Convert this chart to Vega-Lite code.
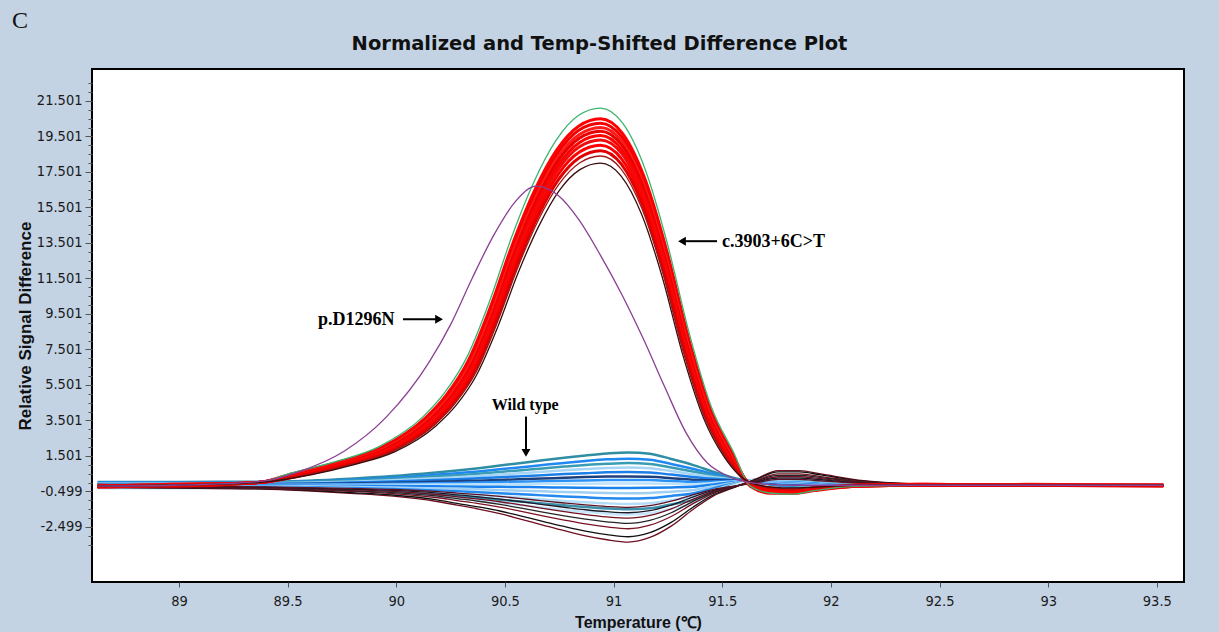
{
"$schema":"https://vega.github.io/schema/vega-lite/v6.json",
"width":1092,"height":513,
"autosize":{"type":"none"},
"padding":{"left":92,"top":69,"right":35,"bottom":50},
"background":"#c3d3e4",
"title":{"text":"C","anchor":"start","frame":"group","dx":-80,"offset":0,"font":"Liberation Serif","fontSize":24,"fontWeight":"normal","color":"#111111"},
"config":{"view":{"stroke":"#000000","strokeWidth":2,"fill":"#ffffff"},"axis":{"grid":false,"domain":false}},
"datasets":{
"curves":[
{"s":"w1","t":88.626,"v":0.04},{"s":"w1","t":89,"v":0.04},{"s":"w1","t":89.394,"v":0.05},{"s":"w1","t":89.591,"v":0.11},{"s":"w1","t":89.788,"v":0.22},{"s":"w1","t":89.985,"v":0.37},{"s":"w1","t":90.182,"v":0.57},{"s":"w1","t":90.28,"v":0.68},{"s":"w1","t":90.379,"v":0.81},{"s":"w1","t":90.477,"v":0.96},{"s":"w1","t":90.576,"v":1.11},{"s":"w1","t":90.674,"v":1.26},{"s":"w1","t":90.773,"v":1.4},{"s":"w1","t":90.871,"v":1.53},{"s":"w1","t":90.97,"v":1.64},{"s":"w1","t":91.068,"v":1.7},{"s":"w1","t":91.167,"v":1.63},{"s":"w1","t":91.265,"v":1.33},{"s":"w1","t":91.364,"v":1.0},{"s":"w1","t":91.462,"v":0.6},{"s":"w1","t":91.56,"v":0.24},{"s":"w1","t":91.659,"v":0.01},{"s":"w1","t":91.757,"v":-0.17},{"s":"w1","t":91.856,"v":-0.26},{"s":"w1","t":91.954,"v":-0.25},{"s":"w1","t":92.151,"v":-0.17},{"s":"w1","t":92.447,"v":-0.15},{"s":"w1","t":92.939,"v":-0.15},{"s":"w1","t":93.53,"v":-0.15},
{"s":"w2","t":88.626,"v":0.0},{"s":"w2","t":89,"v":0.0},{"s":"w2","t":89.394,"v":0.02},{"s":"w2","t":89.591,"v":0.06},{"s":"w2","t":89.788,"v":0.15},{"s":"w2","t":89.985,"v":0.27},{"s":"w2","t":90.182,"v":0.44},{"s":"w2","t":90.28,"v":0.53},{"s":"w2","t":90.379,"v":0.63},{"s":"w2","t":90.477,"v":0.75},{"s":"w2","t":90.576,"v":0.87},{"s":"w2","t":90.674,"v":0.99},{"s":"w2","t":90.773,"v":1.11},{"s":"w2","t":90.871,"v":1.22},{"s":"w2","t":90.97,"v":1.31},{"s":"w2","t":91.068,"v":1.35},{"s":"w2","t":91.167,"v":1.29},{"s":"w2","t":91.265,"v":1.05},{"s":"w2","t":91.364,"v":0.78},{"s":"w2","t":91.462,"v":0.48},{"s":"w2","t":91.56,"v":0.2},{"s":"w2","t":91.659,"v":0.03},{"s":"w2","t":91.757,"v":-0.13},{"s":"w2","t":91.856,"v":-0.21},{"s":"w2","t":91.954,"v":-0.22},{"s":"w2","t":92.151,"v":-0.16},{"s":"w2","t":92.447,"v":-0.15},{"s":"w2","t":92.939,"v":-0.15},{"s":"w2","t":93.53,"v":-0.15},
{"s":"w3","t":88.626,"v":-0.03},{"s":"w3","t":89,"v":-0.03},{"s":"w3","t":89.394,"v":-0.01},{"s":"w3","t":89.591,"v":0.03},{"s":"w3","t":89.788,"v":0.1},{"s":"w3","t":89.985,"v":0.2},{"s":"w3","t":90.182,"v":0.34},{"s":"w3","t":90.28,"v":0.41},{"s":"w3","t":90.379,"v":0.5},{"s":"w3","t":90.477,"v":0.6},{"s":"w3","t":90.576,"v":0.7},{"s":"w3","t":90.674,"v":0.8},{"s":"w3","t":90.773,"v":0.9},{"s":"w3","t":90.871,"v":0.99},{"s":"w3","t":90.97,"v":1.06},{"s":"w3","t":91.068,"v":1.1},{"s":"w3","t":91.167,"v":1.05},{"s":"w3","t":91.265,"v":0.85},{"s":"w3","t":91.364,"v":0.63},{"s":"w3","t":91.462,"v":0.39},{"s":"w3","t":91.56,"v":0.18},{"s":"w3","t":91.659,"v":0.04},{"s":"w3","t":91.757,"v":-0.1},{"s":"w3","t":91.856,"v":-0.18},{"s":"w3","t":91.954,"v":-0.19},{"s":"w3","t":92.151,"v":-0.15},{"s":"w3","t":92.447,"v":-0.15},{"s":"w3","t":92.939,"v":-0.15},{"s":"w3","t":93.53,"v":-0.15},
{"s":"w4","t":88.626,"v":-0.05},{"s":"w4","t":89,"v":-0.05},{"s":"w4","t":89.394,"v":-0.04},{"s":"w4","t":89.591,"v":-0.01},{"s":"w4","t":89.788,"v":0.05},{"s":"w4","t":89.985,"v":0.13},{"s":"w4","t":90.182,"v":0.24},{"s":"w4","t":90.28,"v":0.3},{"s":"w4","t":90.379,"v":0.37},{"s":"w4","t":90.477,"v":0.45},{"s":"w4","t":90.576,"v":0.53},{"s":"w4","t":90.674,"v":0.61},{"s":"w4","t":90.773,"v":0.69},{"s":"w4","t":90.871,"v":0.76},{"s":"w4","t":90.97,"v":0.82},{"s":"w4","t":91.068,"v":0.85},{"s":"w4","t":91.167,"v":0.81},{"s":"w4","t":91.265,"v":0.65},{"s":"w4","t":91.364,"v":0.47},{"s":"w4","t":91.462,"v":0.3},{"s":"w4","t":91.56,"v":0.15},{"s":"w4","t":91.659,"v":0.05},{"s":"w4","t":91.757,"v":-0.07},{"s":"w4","t":91.856,"v":-0.14},{"s":"w4","t":91.954,"v":-0.16},{"s":"w4","t":92.151,"v":-0.14},{"s":"w4","t":92.447,"v":-0.15},{"s":"w4","t":92.939,"v":-0.15},{"s":"w4","t":93.53,"v":-0.15},
{"s":"w5","t":88.626,"v":-0.08},{"s":"w5","t":89,"v":-0.08},{"s":"w5","t":89.394,"v":-0.07},{"s":"w5","t":89.591,"v":-0.05},{"s":"w5","t":89.788,"v":0.0},{"s":"w5","t":89.985,"v":0.06},{"s":"w5","t":90.182,"v":0.14},{"s":"w5","t":90.28,"v":0.19},{"s":"w5","t":90.379,"v":0.24},{"s":"w5","t":90.477,"v":0.3},{"s":"w5","t":90.576,"v":0.36},{"s":"w5","t":90.674,"v":0.42},{"s":"w5","t":90.773,"v":0.48},{"s":"w5","t":90.871,"v":0.53},{"s":"w5","t":90.97,"v":0.58},{"s":"w5","t":91.068,"v":0.6},{"s":"w5","t":91.167,"v":0.57},{"s":"w5","t":91.265,"v":0.45},{"s":"w5","t":91.364,"v":0.32},{"s":"w5","t":91.462,"v":0.21},{"s":"w5","t":91.56,"v":0.13},{"s":"w5","t":91.659,"v":0.06},{"s":"w5","t":91.757,"v":-0.04},{"s":"w5","t":91.856,"v":-0.1},{"s":"w5","t":91.954,"v":-0.13},{"s":"w5","t":92.151,"v":-0.13},{"s":"w5","t":92.447,"v":-0.15},{"s":"w5","t":92.939,"v":-0.15},{"s":"w5","t":93.53,"v":-0.15},
{"s":"w6","t":88.626,"v":-0.1},{"s":"w6","t":89,"v":-0.1},{"s":"w6","t":89.394,"v":-0.1},{"s":"w6","t":89.591,"v":-0.08},{"s":"w6","t":89.788,"v":-0.05},{"s":"w6","t":89.985,"v":-0.01},{"s":"w6","t":90.182,"v":0.05},{"s":"w6","t":90.28,"v":0.08},{"s":"w6","t":90.379,"v":0.11},{"s":"w6","t":90.477,"v":0.15},{"s":"w6","t":90.576,"v":0.19},{"s":"w6","t":90.674,"v":0.23},{"s":"w6","t":90.773,"v":0.27},{"s":"w6","t":90.871,"v":0.31},{"s":"w6","t":90.97,"v":0.34},{"s":"w6","t":91.068,"v":0.35},{"s":"w6","t":91.167,"v":0.33},{"s":"w6","t":91.265,"v":0.25},{"s":"w6","t":91.364,"v":0.16},{"s":"w6","t":91.462,"v":0.13},{"s":"w6","t":91.56,"v":0.1},{"s":"w6","t":91.659,"v":0.08},{"s":"w6","t":91.757,"v":-0.01},{"s":"w6","t":91.856,"v":-0.07},{"s":"w6","t":91.954,"v":-0.11},{"s":"w6","t":92.151,"v":-0.12},{"s":"w6","t":92.447,"v":-0.15},{"s":"w6","t":92.939,"v":-0.15},{"s":"w6","t":93.53,"v":-0.15},
{"s":"w7","t":88.626,"v":-0.12},{"s":"w7","t":89,"v":-0.12},{"s":"w7","t":89.394,"v":-0.12},{"s":"w7","t":89.591,"v":-0.11},{"s":"w7","t":89.788,"v":-0.09},{"s":"w7","t":89.985,"v":-0.07},{"s":"w7","t":90.182,"v":-0.03},{"s":"w7","t":90.28,"v":-0.02},{"s":"w7","t":90.379,"v":0.01},{"s":"w7","t":90.477,"v":0.03},{"s":"w7","t":90.576,"v":0.05},{"s":"w7","t":90.674,"v":0.08},{"s":"w7","t":90.773,"v":0.1},{"s":"w7","t":90.871,"v":0.12},{"s":"w7","t":90.97,"v":0.14},{"s":"w7","t":91.068,"v":0.15},{"s":"w7","t":91.167,"v":0.14},{"s":"w7","t":91.265,"v":0.09},{"s":"w7","t":91.364,"v":0.04},{"s":"w7","t":91.462,"v":0.06},{"s":"w7","t":91.56,"v":0.08},{"s":"w7","t":91.659,"v":0.09},{"s":"w7","t":91.757,"v":0.01},{"s":"w7","t":91.856,"v":-0.04},{"s":"w7","t":91.954,"v":-0.08},{"s":"w7","t":92.151,"v":-0.11},{"s":"w7","t":92.447,"v":-0.15},{"s":"w7","t":92.939,"v":-0.15},{"s":"w7","t":93.53,"v":-0.15},
{"s":"w8","t":88.626,"v":-0.14},{"s":"w8","t":89,"v":-0.14},{"s":"w8","t":89.394,"v":-0.14},{"s":"w8","t":89.591,"v":-0.14},{"s":"w8","t":89.788,"v":-0.13},{"s":"w8","t":89.985,"v":-0.12},{"s":"w8","t":90.182,"v":-0.11},{"s":"w8","t":90.28,"v":-0.11},{"s":"w8","t":90.379,"v":-0.1},{"s":"w8","t":90.477,"v":-0.09},{"s":"w8","t":90.576,"v":-0.08},{"s":"w8","t":90.674,"v":-0.07},{"s":"w8","t":90.773,"v":-0.07},{"s":"w8","t":90.871,"v":-0.06},{"s":"w8","t":90.97,"v":-0.05},{"s":"w8","t":91.068,"v":-0.05},{"s":"w8","t":91.167,"v":-0.05},{"s":"w8","t":91.265,"v":-0.07},{"s":"w8","t":91.364,"v":-0.09},{"s":"w8","t":91.462,"v":-0.02},{"s":"w8","t":91.56,"v":0.06},{"s":"w8","t":91.659,"v":0.1},{"s":"w8","t":91.757,"v":0.04},{"s":"w8","t":91.856,"v":-0.01},{"s":"w8","t":91.954,"v":-0.06},{"s":"w8","t":92.151,"v":-0.1},{"s":"w8","t":92.447,"v":-0.15},{"s":"w8","t":92.939,"v":-0.15},{"s":"w8","t":93.53,"v":-0.15},
{"s":"w9","t":88.626,"v":-0.17},{"s":"w9","t":89,"v":-0.17},{"s":"w9","t":89.394,"v":-0.17},{"s":"w9","t":89.591,"v":-0.17},{"s":"w9","t":89.788,"v":-0.18},{"s":"w9","t":89.985,"v":-0.19},{"s":"w9","t":90.182,"v":-0.21},{"s":"w9","t":90.28,"v":-0.22},{"s":"w9","t":90.379,"v":-0.23},{"s":"w9","t":90.477,"v":-0.24},{"s":"w9","t":90.576,"v":-0.25},{"s":"w9","t":90.674,"v":-0.26},{"s":"w9","t":90.773,"v":-0.28},{"s":"w9","t":90.871,"v":-0.29},{"s":"w9","t":90.97,"v":-0.3},{"s":"w9","t":91.068,"v":-0.3},{"s":"w9","t":91.167,"v":-0.29},{"s":"w9","t":91.265,"v":-0.27},{"s":"w9","t":91.364,"v":-0.24},{"s":"w9","t":91.462,"v":-0.1},{"s":"w9","t":91.56,"v":0.04},{"s":"w9","t":91.659,"v":0.11},{"s":"w9","t":91.757,"v":0.07},{"s":"w9","t":91.856,"v":0.02},{"s":"w9","t":91.954,"v":-0.03},{"s":"w9","t":92.151,"v":-0.09},{"s":"w9","t":92.447,"v":-0.15},{"s":"w9","t":92.939,"v":-0.15},{"s":"w9","t":93.53,"v":-0.15},
{"s":"w10","t":88.626,"v":-0.2},{"s":"w10","t":89,"v":-0.2},{"s":"w10","t":89.394,"v":-0.2},{"s":"w10","t":89.591,"v":-0.21},{"s":"w10","t":89.788,"v":-0.24},{"s":"w10","t":89.985,"v":-0.28},{"s":"w10","t":90.182,"v":-0.33},{"s":"w10","t":90.28,"v":-0.35},{"s":"w10","t":90.379,"v":-0.38},{"s":"w10","t":90.477,"v":-0.42},{"s":"w10","t":90.576,"v":-0.46},{"s":"w10","t":90.674,"v":-0.49},{"s":"w10","t":90.773,"v":-0.53},{"s":"w10","t":90.871,"v":-0.56},{"s":"w10","t":90.97,"v":-0.59},{"s":"w10","t":91.068,"v":-0.6},{"s":"w10","t":91.167,"v":-0.58},{"s":"w10","t":91.265,"v":-0.51},{"s":"w10","t":91.364,"v":-0.43},{"s":"w10","t":91.462,"v":-0.21},{"s":"w10","t":91.56,"v":0.0},{"s":"w10","t":91.659,"v":0.12},{"s":"w10","t":91.757,"v":0.1},{"s":"w10","t":91.856,"v":0.06},{"s":"w10","t":91.954,"v":0.0},{"s":"w10","t":92.151,"v":-0.08},{"s":"w10","t":92.447,"v":-0.15},{"s":"w10","t":92.939,"v":-0.15},{"s":"w10","t":93.53,"v":-0.15},
{"s":"w11","t":88.626,"v":-0.23},{"s":"w11","t":89,"v":-0.23},{"s":"w11","t":89.394,"v":-0.23},{"s":"w11","t":89.591,"v":-0.26},{"s":"w11","t":89.788,"v":-0.3},{"s":"w11","t":89.985,"v":-0.36},{"s":"w11","t":90.182,"v":-0.44},{"s":"w11","t":90.28,"v":-0.49},{"s":"w11","t":90.379,"v":-0.54},{"s":"w11","t":90.477,"v":-0.6},{"s":"w11","t":90.576,"v":-0.66},{"s":"w11","t":90.674,"v":-0.72},{"s":"w11","t":90.773,"v":-0.78},{"s":"w11","t":90.871,"v":-0.83},{"s":"w11","t":90.97,"v":-0.88},{"s":"w11","t":91.068,"v":-0.9},{"s":"w11","t":91.167,"v":-0.87},{"s":"w11","t":91.265,"v":-0.75},{"s":"w11","t":91.364,"v":-0.62},{"s":"w11","t":91.462,"v":-0.31},{"s":"w11","t":91.56,"v":-0.03},{"s":"w11","t":91.659,"v":0.14},{"s":"w11","t":91.757,"v":0.14},{"s":"w11","t":91.856,"v":0.11},{"s":"w11","t":91.954,"v":0.03},{"s":"w11","t":92.151,"v":-0.07},{"s":"w11","t":92.447,"v":-0.15},{"s":"w11","t":92.939,"v":-0.15},{"s":"w11","t":93.53,"v":-0.15},
{"s":"w12","t":88.626,"v":-0.26},{"s":"w12","t":89,"v":-0.26},{"s":"w12","t":89.394,"v":-0.27},{"s":"w12","t":89.591,"v":-0.3},{"s":"w12","t":89.788,"v":-0.36},{"s":"w12","t":89.985,"v":-0.44},{"s":"w12","t":90.182,"v":-0.56},{"s":"w12","t":90.28,"v":-0.62},{"s":"w12","t":90.379,"v":-0.7},{"s":"w12","t":90.477,"v":-0.78},{"s":"w12","t":90.576,"v":-0.86},{"s":"w12","t":90.674,"v":-0.95},{"s":"w12","t":90.773,"v":-1.03},{"s":"w12","t":90.871,"v":-1.11},{"s":"w12","t":90.97,"v":-1.17},{"s":"w12","t":91.068,"v":-1.2},{"s":"w12","t":91.167,"v":-1.16},{"s":"w12","t":91.265,"v":-0.99},{"s":"w12","t":91.364,"v":-0.8},{"s":"w12","t":91.462,"v":-0.42},{"s":"w12","t":91.56,"v":-0.06},{"s":"w12","t":91.659,"v":0.15},{"s":"w12","t":91.757,"v":0.18},{"s":"w12","t":91.856,"v":0.15},{"s":"w12","t":91.954,"v":0.07},{"s":"w12","t":92.151,"v":-0.06},{"s":"w12","t":92.447,"v":-0.15},{"s":"w12","t":92.939,"v":-0.15},{"s":"w12","t":93.53,"v":-0.15},
{"s":"w13","t":88.626,"v":-0.29},{"s":"w13","t":89,"v":-0.29},{"s":"w13","t":89.394,"v":-0.3},{"s":"w13","t":89.591,"v":-0.34},{"s":"w13","t":89.788,"v":-0.42},{"s":"w13","t":89.985,"v":-0.53},{"s":"w13","t":90.182,"v":-0.68},{"s":"w13","t":90.28,"v":-0.76},{"s":"w13","t":90.379,"v":-0.85},{"s":"w13","t":90.477,"v":-0.96},{"s":"w13","t":90.576,"v":-1.07},{"s":"w13","t":90.674,"v":-1.18},{"s":"w13","t":90.773,"v":-1.28},{"s":"w13","t":90.871,"v":-1.38},{"s":"w13","t":90.97,"v":-1.46},{"s":"w13","t":91.068,"v":-1.5},{"s":"w13","t":91.167,"v":-1.45},{"s":"w13","t":91.265,"v":-1.23},{"s":"w13","t":91.364,"v":-0.99},{"s":"w13","t":91.462,"v":-0.52},{"s":"w13","t":91.56,"v":-0.09},{"s":"w13","t":91.659,"v":0.17},{"s":"w13","t":91.757,"v":0.21},{"s":"w13","t":91.856,"v":0.19},{"s":"w13","t":91.954,"v":0.1},{"s":"w13","t":92.151,"v":-0.05},{"s":"w13","t":92.447,"v":-0.15},{"s":"w13","t":92.939,"v":-0.15},{"s":"w13","t":93.53,"v":-0.15},
{"s":"w14","t":88.626,"v":-0.32},{"s":"w14","t":89,"v":-0.32},{"s":"w14","t":89.394,"v":-0.33},{"s":"w14","t":89.591,"v":-0.38},{"s":"w14","t":89.788,"v":-0.48},{"s":"w14","t":89.985,"v":-0.61},{"s":"w14","t":90.182,"v":-0.79},{"s":"w14","t":90.28,"v":-0.89},{"s":"w14","t":90.379,"v":-1.01},{"s":"w14","t":90.477,"v":-1.14},{"s":"w14","t":90.576,"v":-1.27},{"s":"w14","t":90.674,"v":-1.4},{"s":"w14","t":90.773,"v":-1.54},{"s":"w14","t":90.871,"v":-1.65},{"s":"w14","t":90.97,"v":-1.75},{"s":"w14","t":91.068,"v":-1.8},{"s":"w14","t":91.167,"v":-1.73},{"s":"w14","t":91.265,"v":-1.47},{"s":"w14","t":91.364,"v":-1.17},{"s":"w14","t":91.462,"v":-0.63},{"s":"w14","t":91.56,"v":-0.12},{"s":"w14","t":91.659,"v":0.18},{"s":"w14","t":91.757,"v":0.25},{"s":"w14","t":91.856,"v":0.23},{"s":"w14","t":91.954,"v":0.13},{"s":"w14","t":92.151,"v":-0.03},{"s":"w14","t":92.447,"v":-0.15},{"s":"w14","t":92.939,"v":-0.15},{"s":"w14","t":93.53,"v":-0.15},
{"s":"n1","t":88.626,"v":-0.28},{"s":"n1","t":89,"v":-0.31},{"s":"n1","t":89.394,"v":-0.37},{"s":"n1","t":89.591,"v":-0.47},{"s":"n1","t":89.788,"v":-0.6},{"s":"n1","t":89.985,"v":-0.76},{"s":"n1","t":90.182,"v":-1.05},{"s":"n1","t":90.28,"v":-1.27},{"s":"n1","t":90.379,"v":-1.49},{"s":"n1","t":90.477,"v":-1.75},{"s":"n1","t":90.576,"v":-2.07},{"s":"n1","t":90.674,"v":-2.39},{"s":"n1","t":90.773,"v":-2.71},{"s":"n1","t":90.871,"v":-3.0},{"s":"n1","t":90.97,"v":-3.22},{"s":"n1","t":91.068,"v":-3.35},{"s":"n1","t":91.167,"v":-3.09},{"s":"n1","t":91.265,"v":-2.45},{"s":"n1","t":91.364,"v":-1.53},{"s":"n1","t":91.462,"v":-0.73},{"s":"n1","t":91.56,"v":-0.25},{"s":"n1","t":91.659,"v":0.23},{"s":"n1","t":91.757,"v":0.68},{"s":"n1","t":91.856,"v":0.68},{"s":"n1","t":91.954,"v":0.49},{"s":"n1","t":92.151,"v":0.11},{"s":"n1","t":92.447,"v":-0.09},{"s":"n1","t":92.939,"v":-0.15},{"s":"n1","t":93.53,"v":-0.15},
{"s":"n2","t":88.626,"v":-0.27},{"s":"n2","t":89,"v":-0.3},{"s":"n2","t":89.394,"v":-0.35},{"s":"n2","t":89.591,"v":-0.44},{"s":"n2","t":89.788,"v":-0.56},{"s":"n2","t":89.985,"v":-0.7},{"s":"n2","t":90.182,"v":-0.96},{"s":"n2","t":90.28,"v":-1.17},{"s":"n2","t":90.379,"v":-1.37},{"s":"n2","t":90.477,"v":-1.6},{"s":"n2","t":90.576,"v":-1.89},{"s":"n2","t":90.674,"v":-2.18},{"s":"n2","t":90.773,"v":-2.47},{"s":"n2","t":90.871,"v":-2.73},{"s":"n2","t":90.97,"v":-2.93},{"s":"n2","t":91.068,"v":-3.05},{"s":"n2","t":91.167,"v":-2.82},{"s":"n2","t":91.265,"v":-2.24},{"s":"n2","t":91.364,"v":-1.4},{"s":"n2","t":91.462,"v":-0.67},{"s":"n2","t":91.56,"v":-0.24},{"s":"n2","t":91.659,"v":0.2},{"s":"n2","t":91.757,"v":0.6},{"s":"n2","t":91.856,"v":0.6},{"s":"n2","t":91.954,"v":0.43},{"s":"n2","t":92.151,"v":0.08},{"s":"n2","t":92.447,"v":-0.09},{"s":"n2","t":92.939,"v":-0.15},{"s":"n2","t":93.53,"v":-0.15},
{"s":"n3","t":88.626,"v":-0.25},{"s":"n3","t":89,"v":-0.27},{"s":"n3","t":89.394,"v":-0.32},{"s":"n3","t":89.591,"v":-0.4},{"s":"n3","t":89.788,"v":-0.49},{"s":"n3","t":89.985,"v":-0.62},{"s":"n3","t":90.182,"v":-0.84},{"s":"n3","t":90.28,"v":-1.01},{"s":"n3","t":90.379,"v":-1.18},{"s":"n3","t":90.477,"v":-1.38},{"s":"n3","t":90.576,"v":-1.62},{"s":"n3","t":90.674,"v":-1.87},{"s":"n3","t":90.773,"v":-2.11},{"s":"n3","t":90.871,"v":-2.33},{"s":"n3","t":90.97,"v":-2.5},{"s":"n3","t":91.068,"v":-2.6},{"s":"n3","t":91.167,"v":-2.4},{"s":"n3","t":91.265,"v":-1.91},{"s":"n3","t":91.364,"v":-1.2},{"s":"n3","t":91.462,"v":-0.59},{"s":"n3","t":91.56,"v":-0.22},{"s":"n3","t":91.659,"v":0.14},{"s":"n3","t":91.757,"v":0.49},{"s":"n3","t":91.856,"v":0.49},{"s":"n3","t":91.954,"v":0.34},{"s":"n3","t":92.151,"v":0.05},{"s":"n3","t":92.447,"v":-0.1},{"s":"n3","t":92.939,"v":-0.15},{"s":"n3","t":93.53,"v":-0.15},
{"s":"n4","t":88.626,"v":-0.24},{"s":"n4","t":89,"v":-0.26},{"s":"n4","t":89.394,"v":-0.3},{"s":"n4","t":89.591,"v":-0.37},{"s":"n4","t":89.788,"v":-0.45},{"s":"n4","t":89.985,"v":-0.56},{"s":"n4","t":90.182,"v":-0.75},{"s":"n4","t":90.28,"v":-0.9},{"s":"n4","t":90.379,"v":-1.05},{"s":"n4","t":90.477,"v":-1.23},{"s":"n4","t":90.576,"v":-1.44},{"s":"n4","t":90.674,"v":-1.66},{"s":"n4","t":90.773,"v":-1.87},{"s":"n4","t":90.871,"v":-2.06},{"s":"n4","t":90.97,"v":-2.21},{"s":"n4","t":91.068,"v":-2.3},{"s":"n4","t":91.167,"v":-2.13},{"s":"n4","t":91.265,"v":-1.7},{"s":"n4","t":91.364,"v":-1.07},{"s":"n4","t":91.462,"v":-0.54},{"s":"n4","t":91.56,"v":-0.21},{"s":"n4","t":91.659,"v":0.11},{"s":"n4","t":91.757,"v":0.41},{"s":"n4","t":91.856,"v":0.41},{"s":"n4","t":91.954,"v":0.28},{"s":"n4","t":92.151,"v":0.02},{"s":"n4","t":92.447,"v":-0.11},{"s":"n4","t":92.939,"v":-0.15},{"s":"n4","t":93.53,"v":-0.15},
{"s":"n5","t":88.626,"v":-0.22},{"s":"n5","t":89,"v":-0.24},{"s":"n5","t":89.394,"v":-0.28},{"s":"n5","t":89.591,"v":-0.34},{"s":"n5","t":89.788,"v":-0.41},{"s":"n5","t":89.985,"v":-0.5},{"s":"n5","t":90.182,"v":-0.67},{"s":"n5","t":90.28,"v":-0.8},{"s":"n5","t":90.379,"v":-0.93},{"s":"n5","t":90.477,"v":-1.08},{"s":"n5","t":90.576,"v":-1.26},{"s":"n5","t":90.674,"v":-1.45},{"s":"n5","t":90.773,"v":-1.63},{"s":"n5","t":90.871,"v":-1.8},{"s":"n5","t":90.97,"v":-1.93},{"s":"n5","t":91.068,"v":-2.0},{"s":"n5","t":91.167,"v":-1.85},{"s":"n5","t":91.265,"v":-1.48},{"s":"n5","t":91.364,"v":-0.95},{"s":"n5","t":91.462,"v":-0.48},{"s":"n5","t":91.56,"v":-0.21},{"s":"n5","t":91.659,"v":0.07},{"s":"n5","t":91.757,"v":0.33},{"s":"n5","t":91.856,"v":0.33},{"s":"n5","t":91.954,"v":0.22},{"s":"n5","t":92.151,"v":0.0},{"s":"n5","t":92.447,"v":-0.11},{"s":"n5","t":92.939,"v":-0.15},{"s":"n5","t":93.53,"v":-0.15},
{"s":"n6","t":88.626,"v":-0.21},{"s":"n6","t":89,"v":-0.23},{"s":"n6","t":89.394,"v":-0.26},{"s":"n6","t":89.591,"v":-0.31},{"s":"n6","t":89.788,"v":-0.37},{"s":"n6","t":89.985,"v":-0.44},{"s":"n6","t":90.182,"v":-0.58},{"s":"n6","t":90.28,"v":-0.69},{"s":"n6","t":90.379,"v":-0.8},{"s":"n6","t":90.477,"v":-0.93},{"s":"n6","t":90.576,"v":-1.08},{"s":"n6","t":90.674,"v":-1.24},{"s":"n6","t":90.773,"v":-1.39},{"s":"n6","t":90.871,"v":-1.53},{"s":"n6","t":90.97,"v":-1.64},{"s":"n6","t":91.068,"v":-1.7},{"s":"n6","t":91.167,"v":-1.58},{"s":"n6","t":91.265,"v":-1.27},{"s":"n6","t":91.364,"v":-0.82},{"s":"n6","t":91.462,"v":-0.43},{"s":"n6","t":91.56,"v":-0.2},{"s":"n6","t":91.659,"v":0.04},{"s":"n6","t":91.757,"v":0.25},{"s":"n6","t":91.856,"v":0.25},{"s":"n6","t":91.954,"v":0.16},{"s":"n6","t":92.151,"v":-0.03},{"s":"n6","t":92.447,"v":-0.12},{"s":"n6","t":92.939,"v":-0.15},{"s":"n6","t":93.53,"v":-0.15},
{"s":"n7","t":88.626,"v":-0.2},{"s":"n7","t":89,"v":-0.21},{"s":"n7","t":89.394,"v":-0.24},{"s":"n7","t":89.591,"v":-0.28},{"s":"n7","t":89.788,"v":-0.33},{"s":"n7","t":89.985,"v":-0.39},{"s":"n7","t":90.182,"v":-0.5},{"s":"n7","t":90.28,"v":-0.59},{"s":"n7","t":90.379,"v":-0.68},{"s":"n7","t":90.477,"v":-0.78},{"s":"n7","t":90.576,"v":-0.9},{"s":"n7","t":90.674,"v":-1.03},{"s":"n7","t":90.773,"v":-1.15},{"s":"n7","t":90.871,"v":-1.26},{"s":"n7","t":90.97,"v":-1.35},{"s":"n7","t":91.068,"v":-1.4},{"s":"n7","t":91.167,"v":-1.3},{"s":"n7","t":91.265,"v":-1.05},{"s":"n7","t":91.364,"v":-0.69},{"s":"n7","t":91.462,"v":-0.38},{"s":"n7","t":91.56,"v":-0.19},{"s":"n7","t":91.659,"v":0.0},{"s":"n7","t":91.757,"v":0.18},{"s":"n7","t":91.856,"v":0.18},{"s":"n7","t":91.954,"v":0.1},{"s":"n7","t":92.151,"v":-0.05},{"s":"n7","t":92.447,"v":-0.12},{"s":"n7","t":92.939,"v":-0.15},{"s":"n7","t":93.53,"v":-0.15},
{"s":"gr","t":88.626,"v":-0.2},{"s":"gr","t":88.97,"v":-0.15},{"s":"gr","t":89.364,"v":0.0},{"s":"gr","t":89.513,"v":0.53},{"s":"gr","t":89.717,"v":1.17},{"s":"gr","t":89.921,"v":2.03},{"s":"gr","t":90.125,"v":3.73},{"s":"gr","t":90.226,"v":5.12},{"s":"gr","t":90.328,"v":7.14},{"s":"gr","t":90.43,"v":10.23},{"s":"gr","t":90.532,"v":13.86},{"s":"gr","t":90.634,"v":16.95},{"s":"gr","t":90.736,"v":19.29},{"s":"gr","t":90.838,"v":20.68},{"s":"gr","t":90.94,"v":21.1},{"s":"gr","t":91.042,"v":20.25},{"s":"gr","t":91.144,"v":17.7},{"s":"gr","t":91.246,"v":13.54},{"s":"gr","t":91.348,"v":8.42},{"s":"gr","t":91.45,"v":4.26},{"s":"gr","t":91.552,"v":1.71},{"s":"gr","t":91.629,"v":-0.2},{"s":"gr","t":91.727,"v":-0.6},{"s":"gr","t":91.826,"v":-0.65},{"s":"gr","t":91.924,"v":-0.45},{"s":"gr","t":92.121,"v":-0.2},{"s":"gr","t":92.417,"v":-0.15},{"s":"gr","t":92.909,"v":-0.15},{"s":"gr","t":93.53,"v":-0.15},
{"s":"r1","t":88.626,"v":-0.2},{"s":"r1","t":88.97,"v":-0.15},{"s":"r1","t":89.364,"v":0.0},{"s":"r1","t":89.527,"v":0.52},{"s":"r1","t":89.729,"v":1.14},{"s":"r1","t":89.931,"v":1.97},{"s":"r1","t":90.132,"v":3.62},{"s":"r1","t":90.233,"v":4.97},{"s":"r1","t":90.334,"v":6.93},{"s":"r1","t":90.435,"v":9.94},{"s":"r1","t":90.536,"v":13.46},{"s":"r1","t":90.637,"v":16.46},{"s":"r1","t":90.738,"v":18.73},{"s":"r1","t":90.839,"v":20.08},{"s":"r1","t":90.94,"v":20.5},{"s":"r1","t":91.041,"v":19.67},{"s":"r1","t":91.142,"v":17.18},{"s":"r1","t":91.243,"v":13.14},{"s":"r1","t":91.344,"v":8.18},{"s":"r1","t":91.445,"v":4.14},{"s":"r1","t":91.546,"v":1.66},{"s":"r1","t":91.629,"v":-0.2},{"s":"r1","t":91.727,"v":-0.6},{"s":"r1","t":91.826,"v":-0.6},{"s":"r1","t":91.924,"v":-0.45},{"s":"r1","t":92.121,"v":-0.2},{"s":"r1","t":92.417,"v":-0.15},{"s":"r1","t":92.909,"v":-0.15},{"s":"r1","t":93.53,"v":-0.15},
{"s":"r2","t":88.626,"v":-0.25},{"s":"r2","t":88.97,"v":-0.15},{"s":"r2","t":89.364,"v":0.0},{"s":"r2","t":89.537,"v":0.51},{"s":"r2","t":89.737,"v":1.13},{"s":"r2","t":89.938,"v":1.94},{"s":"r2","t":90.138,"v":3.58},{"s":"r2","t":90.238,"v":4.91},{"s":"r2","t":90.339,"v":6.85},{"s":"r2","t":90.439,"v":9.82},{"s":"r2","t":90.539,"v":13.3},{"s":"r2","t":90.639,"v":16.27},{"s":"r2","t":90.74,"v":18.52},{"s":"r2","t":90.84,"v":19.85},{"s":"r2","t":90.94,"v":20.25},{"s":"r2","t":91.04,"v":19.44},{"s":"r2","t":91.141,"v":16.98},{"s":"r2","t":91.241,"v":12.99},{"s":"r2","t":91.341,"v":8.08},{"s":"r2","t":91.441,"v":4.09},{"s":"r2","t":91.542,"v":1.64},{"s":"r2","t":91.629,"v":-0.15},{"s":"r2","t":91.727,"v":-0.55},{"s":"r2","t":91.826,"v":-0.6},{"s":"r2","t":91.924,"v":-0.4},{"s":"r2","t":92.121,"v":-0.2},{"s":"r2","t":92.417,"v":-0.1},{"s":"r2","t":92.909,"v":-0.15},{"s":"r2","t":93.53,"v":-0.15},
{"s":"r3","t":88.626,"v":-0.2},{"s":"r3","t":88.97,"v":-0.1},{"s":"r3","t":89.364,"v":0.0},{"s":"r3","t":89.548,"v":0.5},{"s":"r3","t":89.747,"v":1.11},{"s":"r3","t":89.945,"v":1.92},{"s":"r3","t":90.144,"v":3.54},{"s":"r3","t":90.244,"v":4.85},{"s":"r3","t":90.343,"v":6.77},{"s":"r3","t":90.443,"v":9.7},{"s":"r3","t":90.542,"v":13.13},{"s":"r3","t":90.642,"v":16.06},{"s":"r3","t":90.741,"v":18.28},{"s":"r3","t":90.841,"v":19.59},{"s":"r3","t":90.94,"v":20.0},{"s":"r3","t":91.04,"v":19.19},{"s":"r3","t":91.139,"v":16.77},{"s":"r3","t":91.238,"v":12.83},{"s":"r3","t":91.338,"v":7.98},{"s":"r3","t":91.437,"v":4.04},{"s":"r3","t":91.537,"v":1.62},{"s":"r3","t":91.629,"v":-0.1},{"s":"r3","t":91.727,"v":-0.5},{"s":"r3","t":91.826,"v":-0.55},{"s":"r3","t":91.924,"v":-0.4},{"s":"r3","t":92.121,"v":-0.15},{"s":"r3","t":92.417,"v":-0.15},{"s":"r3","t":92.909,"v":-0.1},{"s":"r3","t":93.53,"v":-0.15},
{"s":"r4","t":88.626,"v":-0.15},{"s":"r4","t":88.97,"v":-0.2},{"s":"r4","t":89.364,"v":0.0},{"s":"r4","t":89.561,"v":0.5},{"s":"r4","t":89.758,"v":1.1},{"s":"r4","t":89.955,"v":1.9},{"s":"r4","t":90.152,"v":3.5},{"s":"r4","t":90.251,"v":4.8},{"s":"r4","t":90.349,"v":6.7},{"s":"r4","t":90.448,"v":9.6},{"s":"r4","t":90.546,"v":13.0},{"s":"r4","t":90.645,"v":15.9},{"s":"r4","t":90.743,"v":18.1},{"s":"r4","t":90.842,"v":19.4},{"s":"r4","t":90.94,"v":19.8},{"s":"r4","t":91.039,"v":19.0},{"s":"r4","t":91.137,"v":16.6},{"s":"r4","t":91.235,"v":12.7},{"s":"r4","t":91.334,"v":7.9},{"s":"r4","t":91.432,"v":4.0},{"s":"r4","t":91.531,"v":1.6},{"s":"r4","t":91.629,"v":-0.15},{"s":"r4","t":91.727,"v":-0.45},{"s":"r4","t":91.826,"v":-0.5},{"s":"r4","t":91.924,"v":-0.35},{"s":"r4","t":92.121,"v":-0.2},{"s":"r4","t":92.417,"v":-0.15},{"s":"r4","t":92.909,"v":-0.15},{"s":"r4","t":93.53,"v":-0.2},
{"s":"r5","t":88.626,"v":-0.2},{"s":"r5","t":88.97,"v":-0.15},{"s":"r5","t":89.364,"v":0.0},{"s":"r5","t":89.568,"v":0.49},{"s":"r5","t":89.764,"v":1.09},{"s":"r5","t":89.96,"v":1.88},{"s":"r5","t":90.156,"v":3.45},{"s":"r5","t":90.254,"v":4.74},{"s":"r5","t":90.352,"v":6.61},{"s":"r5","t":90.45,"v":9.48},{"s":"r5","t":90.548,"v":12.83},{"s":"r5","t":90.646,"v":15.69},{"s":"r5","t":90.744,"v":17.86},{"s":"r5","t":90.842,"v":19.15},{"s":"r5","t":90.94,"v":19.55},{"s":"r5","t":91.038,"v":18.75},{"s":"r5","t":91.136,"v":16.38},{"s":"r5","t":91.234,"v":12.53},{"s":"r5","t":91.332,"v":7.8},{"s":"r5","t":91.43,"v":3.95},{"s":"r5","t":91.528,"v":1.58},{"s":"r5","t":91.629,"v":-0.1},{"s":"r5","t":91.727,"v":-0.4},{"s":"r5","t":91.826,"v":-0.5},{"s":"r5","t":91.924,"v":-0.35},{"s":"r5","t":92.121,"v":-0.15},{"s":"r5","t":92.417,"v":-0.1},{"s":"r5","t":92.909,"v":-0.15},{"s":"r5","t":93.53,"v":-0.15},
{"s":"r6","t":88.626,"v":-0.25},{"s":"r6","t":88.97,"v":-0.15},{"s":"r6","t":89.364,"v":0.0},{"s":"r6","t":89.575,"v":0.49},{"s":"r6","t":89.77,"v":1.07},{"s":"r6","t":89.965,"v":1.85},{"s":"r6","t":90.16,"v":3.41},{"s":"r6","t":90.258,"v":4.68},{"s":"r6","t":90.355,"v":6.53},{"s":"r6","t":90.453,"v":9.36},{"s":"r6","t":90.55,"v":12.68},{"s":"r6","t":90.648,"v":15.5},{"s":"r6","t":90.745,"v":17.65},{"s":"r6","t":90.843,"v":18.92},{"s":"r6","t":90.94,"v":19.3},{"s":"r6","t":91.038,"v":18.53},{"s":"r6","t":91.135,"v":16.19},{"s":"r6","t":91.233,"v":12.38},{"s":"r6","t":91.33,"v":7.7},{"s":"r6","t":91.428,"v":3.9},{"s":"r6","t":91.525,"v":1.56},{"s":"r6","t":91.629,"v":-0.05},{"s":"r6","t":91.727,"v":-0.35},{"s":"r6","t":91.826,"v":-0.45},{"s":"r6","t":91.924,"v":-0.3},{"s":"r6","t":92.121,"v":-0.2},{"s":"r6","t":92.417,"v":-0.15},{"s":"r6","t":92.909,"v":-0.15},{"s":"r6","t":93.53,"v":-0.15},
{"s":"r7","t":88.626,"v":-0.2},{"s":"r7","t":88.97,"v":-0.1},{"s":"r7","t":89.364,"v":0.0},{"s":"r7","t":89.585,"v":0.48},{"s":"r7","t":89.778,"v":1.06},{"s":"r7","t":89.972,"v":1.82},{"s":"r7","t":90.166,"v":3.36},{"s":"r7","t":90.262,"v":4.61},{"s":"r7","t":90.359,"v":6.43},{"s":"r7","t":90.456,"v":9.22},{"s":"r7","t":90.553,"v":12.48},{"s":"r7","t":90.65,"v":15.26},{"s":"r7","t":90.746,"v":17.38},{"s":"r7","t":90.843,"v":18.62},{"s":"r7","t":90.94,"v":19.0},{"s":"r7","t":91.037,"v":18.24},{"s":"r7","t":91.134,"v":15.94},{"s":"r7","t":91.23,"v":12.19},{"s":"r7","t":91.327,"v":7.58},{"s":"r7","t":91.424,"v":3.84},{"s":"r7","t":91.521,"v":1.54},{"s":"r7","t":91.629,"v":-0.1},{"s":"r7","t":91.727,"v":-0.45},{"s":"r7","t":91.826,"v":-0.5},{"s":"r7","t":91.924,"v":-0.35},{"s":"r7","t":92.121,"v":-0.15},{"s":"r7","t":92.417,"v":-0.15},{"s":"r7","t":92.909,"v":-0.15},{"s":"r7","t":93.53,"v":-0.15},
{"s":"r8","t":88.626,"v":-0.2},{"s":"r8","t":88.97,"v":-0.15},{"s":"r8","t":89.364,"v":0.0},{"s":"r8","t":89.594,"v":0.47},{"s":"r8","t":89.787,"v":1.04},{"s":"r8","t":89.979,"v":1.79},{"s":"r8","t":90.171,"v":3.3},{"s":"r8","t":90.267,"v":4.53},{"s":"r8","t":90.363,"v":6.32},{"s":"r8","t":90.459,"v":9.06},{"s":"r8","t":90.556,"v":12.27},{"s":"r8","t":90.652,"v":15.01},{"s":"r8","t":90.748,"v":17.09},{"s":"r8","t":90.844,"v":18.31},{"s":"r8","t":90.94,"v":18.7},{"s":"r8","t":91.036,"v":17.94},{"s":"r8","t":91.132,"v":15.67},{"s":"r8","t":91.228,"v":11.99},{"s":"r8","t":91.325,"v":7.46},{"s":"r8","t":91.421,"v":3.78},{"s":"r8","t":91.517,"v":1.51},{"s":"r8","t":91.629,"v":-0.05},{"s":"r8","t":91.727,"v":-0.3},{"s":"r8","t":91.826,"v":-0.4},{"s":"r8","t":91.924,"v":-0.3},{"s":"r8","t":92.121,"v":-0.15},{"s":"r8","t":92.417,"v":-0.15},{"s":"r8","t":92.909,"v":-0.15},{"s":"r8","t":93.53,"v":-0.15},
{"s":"d1","t":88.626,"v":-0.2},{"s":"d1","t":88.97,"v":-0.15},{"s":"d1","t":89.364,"v":0.0},{"s":"d1","t":89.603,"v":0.46},{"s":"d1","t":89.794,"v":1.02},{"s":"d1","t":89.985,"v":1.77},{"s":"d1","t":90.176,"v":3.25},{"s":"d1","t":90.271,"v":4.46},{"s":"d1","t":90.367,"v":6.22},{"s":"d1","t":90.462,"v":8.92},{"s":"d1","t":90.558,"v":12.08},{"s":"d1","t":90.653,"v":14.77},{"s":"d1","t":90.749,"v":16.81},{"s":"d1","t":90.845,"v":18.02},{"s":"d1","t":90.94,"v":18.4},{"s":"d1","t":91.036,"v":17.65},{"s":"d1","t":91.131,"v":15.42},{"s":"d1","t":91.227,"v":11.8},{"s":"d1","t":91.322,"v":7.34},{"s":"d1","t":91.418,"v":3.72},{"s":"d1","t":91.513,"v":1.49},{"s":"d1","t":91.629,"v":0.0},{"s":"d1","t":91.727,"v":-0.3},{"s":"d1","t":91.826,"v":-0.35},{"s":"d1","t":91.924,"v":-0.25},{"s":"d1","t":92.121,"v":-0.15},{"s":"d1","t":92.417,"v":-0.15},{"s":"d1","t":92.909,"v":-0.15},{"s":"d1","t":93.53,"v":-0.15},
{"s":"d2","t":88.626,"v":-0.2},{"s":"d2","t":88.97,"v":-0.15},{"s":"d2","t":89.364,"v":0.0},{"s":"d2","t":89.612,"v":0.45},{"s":"d2","t":89.802,"v":1.0},{"s":"d2","t":89.992,"v":1.73},{"s":"d2","t":90.181,"v":3.18},{"s":"d2","t":90.276,"v":4.36},{"s":"d2","t":90.371,"v":6.09},{"s":"d2","t":90.466,"v":8.73},{"s":"d2","t":90.561,"v":11.82},{"s":"d2","t":90.656,"v":14.45},{"s":"d2","t":90.75,"v":16.45},{"s":"d2","t":90.845,"v":17.63},{"s":"d2","t":90.94,"v":18.0},{"s":"d2","t":91.035,"v":17.27},{"s":"d2","t":91.13,"v":15.09},{"s":"d2","t":91.225,"v":11.54},{"s":"d2","t":91.319,"v":7.18},{"s":"d2","t":91.414,"v":3.64},{"s":"d2","t":91.509,"v":1.45},{"s":"d2","t":91.629,"v":0.0},{"s":"d2","t":91.727,"v":-0.25},{"s":"d2","t":91.826,"v":-0.3},{"s":"d2","t":91.924,"v":-0.25},{"s":"d2","t":92.121,"v":-0.15},{"s":"d2","t":92.417,"v":-0.15},{"s":"d2","t":92.909,"v":-0.15},{"s":"d2","t":93.53,"v":-0.15},
{"s":"p","t":88.626,"v":-0.2},{"s":"p","t":88.97,"v":-0.15},{"s":"p","t":89.364,"v":0.05},{"s":"p","t":89.561,"v":0.65},{"s":"p","t":89.758,"v":1.75},{"s":"p","t":89.955,"v":3.7},{"s":"p","t":90.152,"v":6.8},{"s":"p","t":90.25,"v":8.9},{"s":"p","t":90.349,"v":11.5},{"s":"p","t":90.447,"v":13.9},{"s":"p","t":90.546,"v":15.8},{"s":"p","t":90.644,"v":16.7},{"s":"p","t":90.743,"v":16.2},{"s":"p","t":90.841,"v":14.8},{"s":"p","t":90.94,"v":12.8},{"s":"p","t":91.038,"v":10.6},{"s":"p","t":91.137,"v":8.1},{"s":"p","t":91.235,"v":5.4},{"s":"p","t":91.334,"v":2.8},{"s":"p","t":91.432,"v":1.1},{"s":"p","t":91.53,"v":0.35},{"s":"p","t":91.629,"v":0.0},{"s":"p","t":91.727,"v":-0.1},{"s":"p","t":91.826,"v":-0.15},{"s":"p","t":91.924,"v":-0.15},{"s":"p","t":92.121,"v":-0.15},{"s":"p","t":92.417,"v":-0.15},{"s":"p","t":92.909,"v":-0.15},{"s":"p","t":93.53,"v":-0.15}
],
"arrows":[
{"t":90.031,"t2":90.197,"v":9.2,"v2":9.2},
{"t":90.597,"t2":90.597,"v":3.72,"v2":1.75},
{"t":91.33,"t2":91.476,"v":13.6,"v2":13.6}
],
"heads":[
{"t":90.197,"v":9.2,"dir":"right"},
{"t":90.597,"v":1.67,"dir":"down"},
{"t":91.315,"v":13.6,"dir":"left"}
],
"labels18":[
{"label":"p.D1296N","t":89.64,"v":9.18},
{"label":"c.3903+6C>T","t":91.499,"v":13.58}
],
"labels16":[
{"label":"Wild type","t":90.44,"v":4.37}
]
},
"resolve":{"axis":{"x":"independent","y":"independent"}},
"layer":[
{"data":{"name":"curves"},
 "transform":[{"filter":{"field":"s","oneOf":["w1","w2","w3","w4","w5","w6","w7","w8","w9","w10","w11","w12","w13","w14"]}}],
 "mark":{"type":"line","interpolate":"monotone","strokeWidth":2.5,"clip":true},
 "encoding":{
  "x":{"field":"t","type":"quantitative","scale":{"domain":[88.6,93.625],"nice":false,"zero":false},
       "axis":{"orient":"bottom","values":[89,89.5,90,90.5,91,91.5,92,92.5,93,93.5],"format":".1~f","labelFont":"Liberation Sans Narrow, DejaVu Sans Condensed, sans-serif","labelFontSize":14.5,"labelColor":"#1a1a1a","labelFlush":false,"labelOverlap":false,"tickSize":5,"tickColor":"#555555","labelPadding":7,"title":"Temperature (℃)","titleFont":"Liberation Sans","titleFontSize":16,"titleFontWeight":"bold","titleColor":"#111111","titlePadding":7}},
  "y":{"field":"v","type":"quantitative","scale":{"domain":[-5.6,23.3],"nice":false,"zero":false},
       "axis":{"orient":"left","values":[-2.499,-0.499,1.501,3.501,5.501,7.501,9.501,11.501,13.501,15.501,17.501,19.501,21.501],
               "labelExpr":"replace(format(datum.value, '.3f'), '\u2212', '-')",
               "tickSize":7,"labelFont":"Liberation Sans Narrow, DejaVu Sans Condensed, sans-serif","labelFontSize":14.5,"labelColor":"#1a1a1a","labelPadding":3,"labelOverlap":false,"labelFlush":false,"tickColor":"#555555",
               "title":"Relative Signal Difference","titleFont":"Liberation Sans","titleFontSize":17,"titleFontWeight":"bold","titleColor":"#111111","titlePadding":2}},
  "color":{"field":"s","type":"nominal","legend":null,
    "scale":{"domain":["w1","w2","w3","w4","w5","w6","w7","w8","w9","w10","w11","w12","w13","w14","n1","n2","n3","n4","n5","n6","n7","r1","r2","r3","r4","r5","r6","r7","r8","d1","d2","gr","p"],
             "range":["#2f8ea3","#1f88f2","#3a9cb3","#a6d5f5","#1b7fe9","#1e3f7a","#2a92f6","#bde2fa","#1a82ee","#9fd0f3","#2389ef","#b3ddf8","#3b8fa9","#c6e7fb","#6e0f1f","#111111","#7a1424","#262626","#701020","#1a1a2a","#5a1222","#ff0000","#f20000","#ff1a1a","#e60000","#ff0000","#f00c0c","#ff0000","#e00000","#a01818","#3a0d0d","#3cb371","#8b3f93"]}}
 }},
{"data":{"name":"curves"},
 "transform":[{"filter":{"field":"s","oneOf":["n1","n2","n3","n4","n5","n6","n7"]}}],
 "mark":{"type":"line","interpolate":"monotone","strokeWidth":1.3,"clip":true},
 "encoding":{"x":{"field":"t","type":"quantitative","axis":null},
   "y":{"field":"v","type":"quantitative","axis":{"orient":"left","values":[-3.499,-2.999,-1.999,-1.499,-0.999,0.001,0.501,1.001,2.001,2.501,3.001,4.001,4.501,5.001,6.001,6.501,7.001,8.001,8.501,9.001,10.001,10.501,11.001,12.001,12.501,13.001,14.001,14.501,15.001,16.001,16.501,17.001,18.001,18.501,19.001,20.001,20.501,21.001,22.001,22.501],"labels":false,"tickSize":4,"tickColor":"#555555","title":null,"domain":false}},
   "color":{"field":"s","type":"nominal","legend":null}}},
{"data":{"name":"curves"},
 "transform":[{"filter":{"field":"s","oneOf":["r1","r2","r3","r4","r5","r6","r7","r8"]}}],
 "mark":{"type":"line","interpolate":"monotone","strokeWidth":3,"clip":true},
 "encoding":{"x":{"field":"t","type":"quantitative","axis":null},"y":{"field":"v","type":"quantitative","axis":null},"color":{"field":"s","type":"nominal","legend":null}}},
{"data":{"name":"curves"},
 "transform":[{"filter":{"field":"s","oneOf":["d1","d2","gr","p"]}}],
 "mark":{"type":"line","interpolate":"monotone","strokeWidth":1.3,"clip":true},
 "encoding":{"x":{"field":"t","type":"quantitative","axis":null},"y":{"field":"v","type":"quantitative","axis":null},"color":{"field":"s","type":"nominal","legend":null}}},
{"data":{"name":"arrows"},
 "mark":{"type":"rule","color":"#000000","strokeWidth":2},
 "encoding":{"x":{"field":"t","type":"quantitative","axis":null},"x2":{"field":"t2"},"y":{"field":"v","type":"quantitative","axis":null},"y2":{"field":"v2"}}},
{"data":{"name":"heads"},
 "mark":{"type":"point","filled":true,"color":"#000000","size":80,"opacity":1},
 "encoding":{"x":{"field":"t","type":"quantitative","axis":null},"y":{"field":"v","type":"quantitative","axis":null},
   "shape":{"field":"dir","type":"nominal","legend":null,"scale":{"domain":["right","down","left"],"range":["triangle-right","triangle-down","triangle-left"]}}}},
{"data":{"name":"labels16"},
 "mark":{"type":"text","font":"Liberation Serif","fontWeight":"bold","fontSize":16,"align":"left","baseline":"middle","color":"#000000"},
 "encoding":{"x":{"field":"t","type":"quantitative","axis":null},"y":{"field":"v","type":"quantitative","axis":null},"text":{"field":"label"}}},
{"data":{"name":"labels18"},
 "mark":{"type":"text","font":"Liberation Serif","fontWeight":"bold","fontSize":18,"align":"left","baseline":"middle","color":"#000000"},
 "encoding":{"x":{"field":"t","type":"quantitative","axis":{"orient":"top","title":"Normalized and Temp-Shifted Difference Plot","labels":false,"ticks":false,"domain":false,"titleFont":"DejaVu Sans","titleFontSize":19.5,"titleFontWeight":"bold","titleColor":"#111111","titlePadding":16,"titleX":507,"titleAlign":"center"}},
   "y":{"field":"v","type":"quantitative","axis":null},"text":{"field":"label"}}}
]
}
